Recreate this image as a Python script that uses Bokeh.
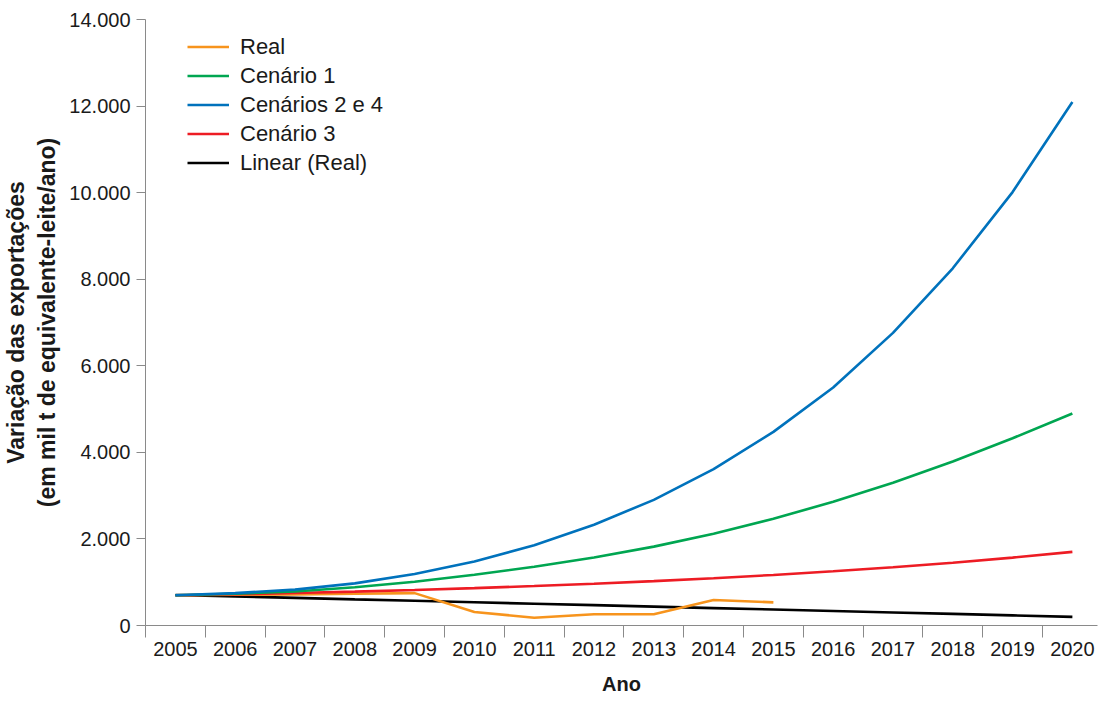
from bokeh.plotting import figure
from bokeh.models import FixedTicker, Legend, LegendItem
from bokeh.embed import file_html
from bokeh.resources import INLINE

# ---- data ----
years = [2005, 2006, 2007, 2008, 2009, 2010, 2011, 2012,
         2013, 2014, 2015, 2016, 2017, 2018, 2019, 2020]
real_years = [2005, 2006, 2007, 2008, 2009, 2010, 2011, 2012, 2013, 2014, 2015]
real = [700, 710, 720, 732, 748, 313, 180, 260, 260, 590, 535]
cenario1 = [700, 732, 787, 882, 1012, 1172, 1357, 1572, 1822, 2122, 2467, 2857,
            3297, 3787, 4327, 4897]
cenarios24 = [700, 748, 828, 973, 1188, 1478, 1853, 2328, 2903, 3613, 4473, 5500,
              6760, 8253, 10013, 12093]
cenario3 = [700, 722, 750, 783, 821, 864, 912, 966, 1026, 1093, 1168, 1252,
            1346, 1451, 1569, 1701]
linear_real = [705, 672, 638, 604, 571, 537, 503, 470, 436, 402, 369, 335,
               301, 268, 234, 200]
y_ticks = [0, 2000, 4000, 6000, 8000, 10000, 12000, 14000]
y_tick_labels = ["0", "2.000", "4.000", "6.000", "8.000", "10.000", "12.000", "14.000"]
x_tick_labels = [str(y) for y in years]

FONT = "Liberation Sans"
AXIS_GRAY = "#8a8a8a"
TEXT = "#1a1a1a"

p = figure(width=1098, height=697, x_range=(2004.5, 2020.42), y_range=(0, 14000),
           output_backend="svg", toolbar_location=None,
           min_border_left=140, min_border_right=1, min_border_top=19,
           min_border_bottom=64)
p.grid.visible = False
p.outline_line_color = None
p.background_fill_color = "white"
p.border_fill_color = "white"

# ---- lines ----
r_lin = p.line(years, linear_real, line_color="#000000", line_width=2.6)
r_real = p.line(real_years, real, line_color="#F7941D", line_width=2.6)
r_c3 = p.line(years, cenario3, line_color="#ED1C24", line_width=2.6)
r_c1 = p.line(years, cenario1, line_color="#00A651", line_width=2.6)
r_c24 = p.line(years, cenarios24, line_color="#0072BC", line_width=2.6)

# ---- x axis ----
xa = p.xaxis[0]
xa.ticker = FixedTicker(ticks=years, minor_ticks=[y - 0.5 for y in years])
xa.major_label_overrides = dict(zip(years, x_tick_labels))
xa.major_tick_line_color = None
xa.major_tick_in = 0
xa.major_tick_out = 0
xa.minor_tick_in = 0
xa.minor_tick_out = 12
xa.minor_tick_line_color = AXIS_GRAY
xa.axis_line_color = AXIS_GRAY
xa.major_label_text_font = FONT
xa.major_label_text_font_size = "20px"
xa.major_label_text_color = TEXT
xa.major_label_standoff = 4
xa.axis_label = "Ano"
xa.axis_label_text_font = FONT
xa.axis_label_text_font_size = "20px"
xa.axis_label_text_font_style = "bold"
xa.axis_label_text_color = TEXT
xa.axis_label_standoff = 14

# ---- y axis ----
ya = p.yaxis[0]
ya.ticker = FixedTicker(ticks=y_ticks, minor_ticks=[])
ya.major_label_overrides = dict(zip(y_ticks, y_tick_labels))
ya.major_tick_in = 0
ya.major_tick_out = 9
ya.major_tick_line_color = AXIS_GRAY
ya.minor_tick_line_color = None
ya.axis_line_color = AXIS_GRAY
ya.major_label_text_font = FONT
ya.major_label_text_font_size = "20px"
ya.major_label_text_color = TEXT
ya.major_label_standoff = 6
ya.axis_label = "Variação das exportações\n(em mil t de equivalente-leite/ano)"
ya.axis_label_text_font = FONT
ya.axis_label_text_font_size = "23px"
ya.axis_label_text_font_style = "bold"
ya.axis_label_text_color = TEXT
ya.axis_label_standoff = 6

# ---- legend ----
legend = Legend(items=[
    LegendItem(label="Real", renderers=[r_real]),
    LegendItem(label="Cenário 1", renderers=[r_c1]),
    LegendItem(label="Cenários 2 e 4", renderers=[r_c24]),
    LegendItem(label="Cenário 3", renderers=[r_c3]),
    LegendItem(label="Linear (Real)", renderers=[r_lin]),
], location=(42, 448))
legend.border_line_color = None
legend.background_fill_alpha = 0
legend.padding = 0
legend.margin = 0
legend.spacing = 0
legend.glyph_width = 42
legend.glyph_height = 29
legend.label_height = 29
legend.label_standoff = 11
legend.label_text_font = FONT
legend.label_text_font_size = "22px"
legend.label_text_color = TEXT
p.add_layout(legend)

open("out.html", "w").write(file_html(p, INLINE))
